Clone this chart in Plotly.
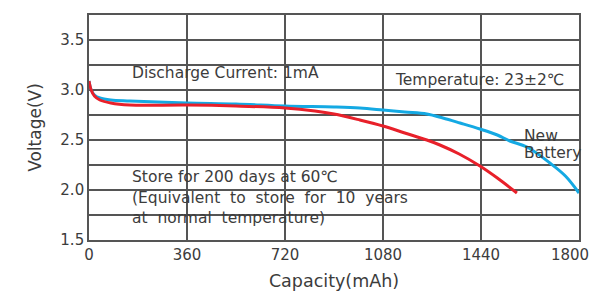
import plotly.graph_objects as go

new_x = [0, 8, 20, 40, 80, 150, 360, 540, 720, 900, 995, 1080, 1160, 1241, 1300, 1363, 1436, 1500, 1546, 1609, 1693, 1750, 1800]
new_y = [3.09, 3.0, 2.95, 2.92, 2.90, 2.89, 2.87, 2.86, 2.84, 2.83, 2.82, 2.80, 2.78, 2.76, 2.72, 2.67, 2.61, 2.55, 2.49, 2.43, 2.27, 2.14, 1.97]

stored_x = [0, 8, 20, 40, 80, 150, 360, 540, 720, 830, 900, 995, 1080, 1160, 1241, 1289, 1360, 1436, 1500, 1572]
stored_y = [3.09, 3.0, 2.94, 2.90, 2.87, 2.85, 2.85, 2.84, 2.82, 2.79, 2.76, 2.70, 2.64, 2.57, 2.50, 2.45, 2.36, 2.24, 2.12, 1.97]

x_ticks = [0, 360, 720, 1080, 1440]
x_labels = ["0", "360", "720", "1080", "1440"]
x_end_tick = [1800]
x_end_label = ["1800"]
y_ticks = [1.5, 2.0, 2.5, 3.0, 3.5]
y_labels = ["1.5", "2.0", "2.5", "3.0", "3.5"]

grid = "#555555"
txt = "#3c3c3c"
font = "DejaVu Sans, Liberation Sans, Arial, sans-serif"
NB = "\u00a0"

fig = go.Figure()
fig.add_trace(go.Scatter(x=new_x, y=new_y, mode="lines", xaxis="x", yaxis="y",
                         line=dict(color="#14a9e3", width=3, shape="spline"),
                         showlegend=False, hoverinfo="skip"))
fig.add_trace(go.Scatter(x=stored_x, y=stored_y, mode="lines", xaxis="x2", yaxis="y",
                         line=dict(color="#e8202a", width=3, shape="spline"),
                         showlegend=False, hoverinfo="skip"))

ann = dict(xref="x", yref="y", showarrow=False, xanchor="left",
           font=dict(family=font, size=15.5, color=txt))
fig.add_annotation(x=150, y=3.17, text="Discharge Current: 1mA", **ann)
fig.add_annotation(x=1117, y=3.1, text="Temperature: 23±2℃", **ann)
fig.add_annotation(x=1590, y=2.54, text="New", **ann)
fig.add_annotation(x=1590, y=2.37, text="Battery", **ann)
fig.add_annotation(x=150, y=2.13, text="Store for 200 days at 60℃", **ann)
fig.add_annotation(x=150, y=1.92,
                   text="(Equivalent" + NB + " to" + NB + " store" + NB + " for" + NB + " 10" + NB + " years", **ann)
fig.add_annotation(x=150, y=1.72,
                   text="at" + NB + " normal" + NB + " temperature)", **ann)

fig.update_layout(
    width=590, height=294,
    margin=dict(l=89, r=11, t=15, b=54),
    paper_bgcolor="white", plot_bgcolor="white",
    font=dict(family=font, color=txt),
    xaxis=dict(range=[0, 1800], tickvals=x_ticks, ticktext=x_labels, showgrid=True,
               gridcolor=grid, gridwidth=1.8, showline=True, mirror=True,
               linecolor=grid, linewidth=1.8, ticks="", zeroline=False,
               automargin=False,
               tickfont=dict(size=15, color=txt),
               title=dict(text="Capacity(mAh)", font=dict(size=17.5, color=txt), standoff=12)),
    xaxis2=dict(overlaying="x", side="bottom", anchor="y",
                range=[0, 1800], tickvals=x_end_tick, ticktext=x_end_label,
                showgrid=False, showline=False, zeroline=False, ticks="",
                automargin=False, ticklabelshift=-9, ticklabelstandoff=4,
                tickfont=dict(size=15, color=txt)),
    yaxis=dict(range=[1.5, 3.75], tickvals=y_ticks, ticktext=y_labels, showgrid=True,
               gridcolor=grid, gridwidth=1.8, showline=True, mirror=True,
               linecolor=grid, linewidth=1.8, ticks="", zeroline=False,
               automargin=False,
               minor=dict(dtick=0.25, tick0=1.5, showgrid=True, gridcolor=grid, gridwidth=1.8),
               tickfont=dict(size=15, color=txt),
               title=dict(text="Voltage(V)", font=dict(size=17, color=txt), standoff=14)),
)

fig.write_html("out.html", config={"displayModeBar": False, "staticPlot": True},
               post_script="document.body.style.margin='0';document.body.style.padding='0';")
